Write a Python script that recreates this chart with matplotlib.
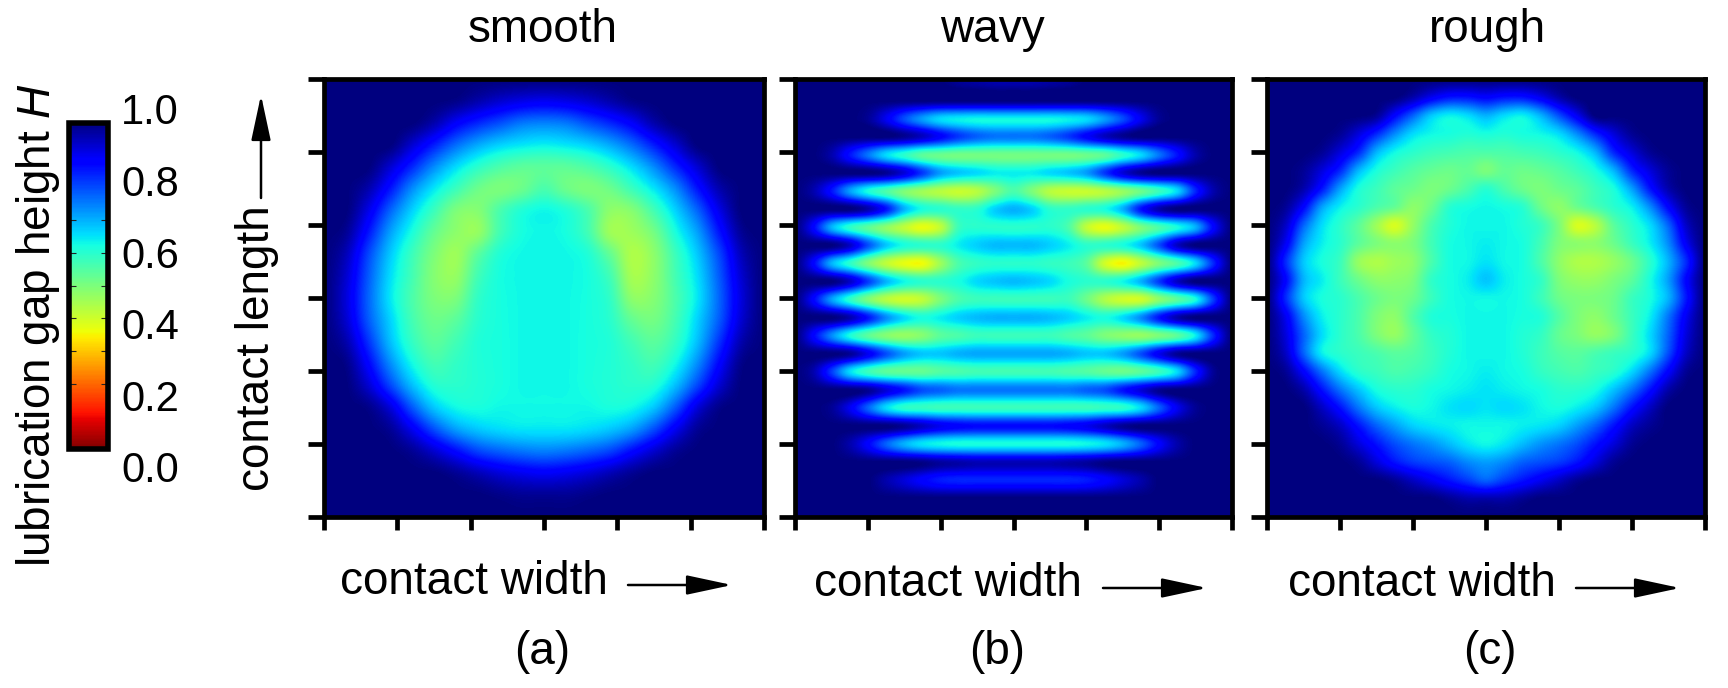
import matplotlib
matplotlib.use('Agg')
import matplotlib.pyplot as plt
from matplotlib.cm import ScalarMappable
from matplotlib.colors import Normalize
from matplotlib.patches import FancyArrowPatch
import numpy as np

W, H = 1728, 688

plt.rcParams['font.family'] = ['Liberation Sans', 'DejaVu Sans']
plt.rcParams['mathtext.fontset'] = 'custom'
plt.rcParams['mathtext.it'] = 'Liberation Sans:italic'
plt.rcParams['mathtext.rm'] = 'Liberation Sans'

titles = ['smooth', 'wavy', 'rough']
panel_labels = ['(a)', '(b)', '(c)']
bar_labels = ['0.0', '0.2', '0.4', '0.6', '0.8', '1.0']
bar_label_values = [0.0, 0.2, 0.4, 0.6, 0.8, 1.0]
bar_tick_values = [0.2, 0.3, 0.4, 0.5, 0.6, 0.7]

# gap height in hundredths, rows top to bottom
# rows and columns sit 0.05 apart, from 0 to 1
smooth = [
    [100]*21,
    [100,100,100,100,100,100,99,96,93,91,90,91,93,96,99,100,100,100,100,100,100],
    [100,100,100,100,100,96,89,84,80,76,75,76,80,84,89,96,100,100,100,100,100],
    [100,100,100,100,93,85,77,71,67,65,64,65,67,71,77,85,93,100,100,100,100],
    [100,100,100,93,84,74,66,60,56,54,54,54,56,60,66,74,84,93,100,100,100],
    [100,100,96,86,74,65,58,52,50,52,56,52,50,52,58,65,74,86,96,100,100],
    [100,100,91,78,67,58,50,49,56,61,63,61,56,48,49,57,67,78,91,100,100],
    [100,98,86,72,62,53,48,47,57,62,63,62,57,46,46,51,62,72,86,98,100],
    [100,95,81,68,58,50,46,54,61,63,63,63,61,53,44,48,58,68,81,95,100],
    [100,93,79,66,57,49,47,57,62,63,63,63,62,57,45,48,57,66,79,93,100],
    [100,92,78,65,56,50,50,59,62,63,63,63,62,59,48,49,56,65,78,92,100],
    [100,93,79,67,57,52,54,60,62,63,63,63,62,60,53,51,57,67,79,93,100],
    [100,96,83,69,59,54,57,61,62,63,63,63,62,61,57,54,59,69,83,96,100],
    [100,99,88,74,63,57,59,61,62,63,63,63,62,61,59,57,63,74,88,99,100],
    [100,100,93,81,69,61,60,61,62,63,63,63,62,61,60,61,69,81,93,100,100],
    [100,100,99,92,79,68,63,62,63,63,63,63,63,62,63,68,79,92,99,100,100],
    [100,100,100,98,90,80,72,68,66,65,65,65,66,68,72,80,90,98,100,100,100],
    [100,100,100,100,98,93,87,81,78,76,75,76,78,81,87,93,98,100,100,100,100],
    [100,100,100,100,100,100,98,95,92,90,89,90,92,95,98,100,100,100,100,100,100],
    [100,100,100,100,100,100,100,100,99,98,98,98,99,100,100,100,100,100,100,100,100],
    [100]*21,
]

# rows follow the crests and troughs of the stripes, columns 1/24 apart
wavy_row_top = 0.0085
wavy_row_step = 0.04125
wavy = [
    [100,100,100,100,100,100,100,100,100,98,97,96,96,96,97,98,100,100,100,100,100,100,100,100,100],
    [100]*25,
    [100,100,100,100,98,90,80,72,66,64,63,63,63,63,63,64,66,72,80,90,98,100,100,100,100],
    [100,100,100,100,100,100,98,94,88,82,78,76,76,76,78,82,88,94,98,100,100,100,100,100,100],
    [100,100,96,86,76,66,60,54,52,51,51,51,51,51,51,51,52,54,60,66,76,86,96,100,100],
    [100,100,100,100,100,98,92,82,72,68,66,64,64,64,66,68,72,82,92,98,100,100,100,100,100],
    [100,96,86,72,62,56,50,46,43,41,43,50,56,50,43,41,41,43,47,52,58,66,84,96,100],
    [100,100,100,100,96,86,70,62,60,59,60,67,70,67,60,59,60,62,70,86,96,100,100,100,100],
    [100,88,70,60,54,48,42,37,42,58,60,60,60,60,60,56,42,37,42,50,56,62,70,88,100],
    [100,100,100,94,80,68,62,60,60,64,67,69,69,69,67,64,60,60,62,68,80,94,100,100,100],
    [100,88,70,60,50,42,37,36,46,56,59,60,60,60,59,58,54,40,35,42,50,56,66,84,100],
    [100,100,100,94,82,70,63,60,60,62,66,68,69,68,66,62,60,60,63,70,82,94,100,100,100],
    [100,88,72,60,50,43,40,42,50,56,58,58,58,58,58,58,52,44,40,40,48,54,62,82,100],
    [100,100,100,96,86,74,66,62,64,67,69,70,70,70,69,67,64,62,66,74,86,96,100,100,100],
    [100,88,74,62,54,49,47,49,54,56,58,58,58,58,58,56,54,50,48,47,50,54,64,84,100],
    [100,100,100,98,90,80,72,68,68,70,71,71,71,71,71,70,68,68,72,80,90,98,100,100,100],
    [100,96,82,66,58,54,53,53,55,56,57,57,57,57,57,56,55,53,52,54,58,66,84,98,100],
    [100,100,100,100,98,92,86,80,78,76,76,76,76,76,76,76,78,80,86,92,98,100,100,100,100],
    [100,100,98,90,78,66,60,59,58,58,58,58,58,58,58,58,58,59,60,66,78,90,98,100,100],
    [100,100,100,100,100,100,98,94,90,88,87,87,87,87,87,88,90,94,98,100,100,100,100,100,100],
    [100,100,100,96,88,78,70,65,63,62,62,62,62,62,62,62,63,65,70,78,88,96,100,100,100],
    [100,100,100,100,100,100,100,99,97,96,95,95,95,95,95,96,97,99,100,100,100,100,100,100,100],
    [100,100,100,100,100,96,92,88,85,84,84,84,84,84,84,84,85,88,92,96,100,100,100,100,100],
    [100]*25,
    [100]*25,
]

# rows and columns 1/24 apart, from 0 to 1
rough = [
    [100]*25,
    [100,100,100,100,100,100,100,100,96,90,86,86,88,86,86,90,96,100,100,100,100,100,100,100,100],
    [100,100,100,100,100,100,98,88,78,68,64,66,70,66,64,70,80,90,100,100,100,100,100,100,100],
    [100,100,100,100,98,92,84,74,66,63,62,61,62,61,62,63,66,74,84,92,98,100,100,100,100],
    [100,100,100,98,92,84,70,63,60,58,57,56,56,56,57,58,60,63,70,84,92,98,100,100,100],
    [100,100,98,92,84,70,62,58,55,53,52,53,50,53,52,53,55,58,62,70,84,92,98,100,100],
    [100,100,96,86,72,62,58,54,52,50,52,56,60,56,52,50,52,54,58,62,72,86,96,100,100],
    [100,98,88,72,64,60,56,53,48,52,60,62,63,62,60,52,48,52,56,60,64,74,88,98,100],
    [100,94,78,66,60,54,46,39,47,56,61,63,63,63,61,58,50,39,43,54,60,66,78,94,100],
    [100,90,72,64,60,54,50,48,50,57,62,63,64,63,62,57,50,48,48,52,58,64,74,90,100],
    [100,84,68,62,58,47,44,46,48,56,62,63,65,63,62,56,48,44,44,47,52,60,70,84,100],
    [100,88,70,64,58,52,48,48,50,59,62,64,68,64,62,59,50,47,47,50,54,62,72,88,100],
    [100,84,68,62,60,56,52,50,52,58,62,63,63,63,62,58,52,50,50,52,58,62,70,86,100],
    [100,90,74,64,60,56,50,48,55,61,62,63,63,63,62,61,55,50,48,52,58,64,76,90,100],
    [100,92,78,66,60,56,50,47,53,59,61,63,63,63,61,59,53,50,47,50,58,66,78,92,100],
    [100,94,78,64,60,58,56,54,55,58,61,63,63,63,61,58,55,54,56,58,60,66,80,94,100],
    [100,98,88,76,66,60,58,56,57,59,62,63,64,63,62,59,57,56,58,60,66,76,88,98,100],
    [100,100,96,86,76,68,62,60,60,62,63,64,65,64,63,62,60,60,62,68,76,86,96,100,100],
    [100,100,100,94,86,76,68,64,62,63,65,66,65,66,65,63,62,64,68,76,86,94,100,100,100],
    [100,100,100,98,94,86,78,72,67,65,64,63,63,63,64,65,67,72,78,86,94,98,100,100,100],
    [100,100,100,100,98,92,86,80,76,73,69,65,63,65,69,73,76,80,86,92,98,100,100,100,100],
    [100,100,100,100,100,98,92,86,82,80,78,74,72,74,78,80,82,86,92,98,100,100,100,100,100],
    [100,100,100,100,100,100,100,98,94,90,86,82,78,82,86,90,94,98,100,100,100,100,100,100,100],
    [100,100,100,100,100,100,100,100,100,100,98,96,96,96,98,100,100,100,100,100,100,100,100,100,100],
    [100]*25,
]


def rect(x0, y0, x1, y1):
    # pixel box to figure fraction
    return [x0/W, 1 - y1/H, (x1 - x0)/W, (y1 - y0)/H]


def put_text(x, y, s, size=33, rotation=0):
    fig.text(x/W, 1 - y/H, s, fontsize=size, rotation=rotation,
             ha='center', va='center', color='black')


def put_arrow(x0, y0, x1, y1):
    fig.add_artist(FancyArrowPatch((x0/W, 1 - y0/H), (x1/W, 1 - y1/H),
                                   transform=fig.transFigure,
                                   arrowstyle='-|>,head_length=28,head_width=6',
                                   mutation_scale=1, lw=1.8, color='black',
                                   shrinkA=0, shrinkB=0))


fig = plt.figure(figsize=(W/100, H/100), dpi=100)

panel_boxes = [(324, 79, 764, 517), (795, 79, 1232, 517), (1267, 79, 1705, 517)]
grids = [smooth, wavy, rough]

for box, grid in zip(panel_boxes, grids):
    ax = fig.add_axes(rect(*box))
    data = np.array(grid)/100
    rows, cols = data.shape
    half_x = 0.5/(cols - 1)
    if grid is wavy:
        top = wavy_row_top - wavy_row_step/2
        bottom = top + wavy_row_step*rows
    else:
        half_y = 0.5/(rows - 1)
        top = -half_y
        bottom = 1 + half_y
    # catrom goes through the read values, agg's bicubic blurs them
    ax.imshow(data, cmap='jet_r', vmin=0, vmax=1, interpolation='catrom',
              extent=(-half_x, 1 + half_x, bottom, top), aspect='auto')
    ax.set_xlim(0, 1)
    ax.set_ylim(1, 0)
    ax.set_xticks(np.linspace(0, 1, 7))
    ax.set_yticks(np.linspace(0, 1, 7))
    ax.set_xticklabels([])
    ax.set_yticklabels([])
    ax.tick_params(axis='x', length=9.5, width=3.4)
    ax.tick_params(axis='y', length=11.5, width=3.4)
    for spine in ax.spines.values():
        spine.set_linewidth(3.4)

# colour bar
cax = fig.add_axes(rect(69, 122.5, 108.5, 449))
cb = fig.colorbar(ScalarMappable(Normalize(0, 1), 'jet_r'), cax=cax)
cb.outline.set_linewidth(4)
cb.set_ticks(bar_tick_values)
cax.minorticks_off()
cax.tick_params(axis='y', direction='in', left=True, right=True, labelright=False,
                length=5, width=0.8, color='#222222')

# its labels run a little wider than the bar itself
lax = fig.add_axes(rect(120, 109, 121, 467))
lax.set_ylim(0, 1)
lax.set_xticks([])
lax.yaxis.tick_right()
lax.set_yticks(bar_label_values)
lax.set_yticklabels(bar_labels, fontsize=30)
lax.tick_params(axis='y', length=0, pad=0)
lax.patch.set_visible(False)
for spine in lax.spines.values():
    spine.set_visible(False)

for x, title in zip([543, 992, 1487], titles):
    put_text(x, 30, title)
for x, label in zip([542, 997, 1490], panel_labels):
    put_text(x, 652, label)
for x, y in zip([474, 948, 1422], [582, 584, 584]):
    put_text(x, y, 'contact width')
for x0, x1, y in zip([628, 1103, 1576], [732, 1207, 1680], [585, 588, 588]):
    put_arrow(x0, y, x1, y)

put_text(257, 348, 'contact length', rotation=90)
put_arrow(261, 198, 261, 95)
put_text(38, 325, r'lubrication gap height $\mathit{H}$', rotation=90)

fig.savefig('out.png', dpi=100)
